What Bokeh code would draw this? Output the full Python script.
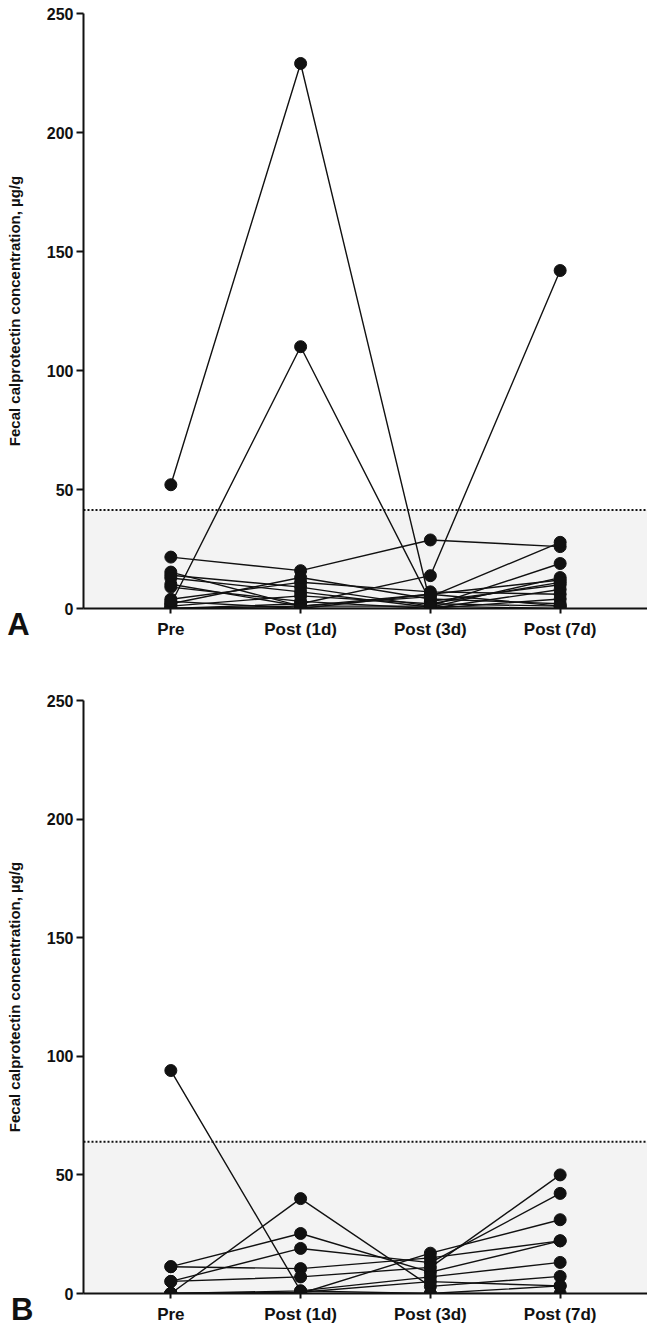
from bokeh.plotting import figure
from bokeh.layouts import column
from bokeh.models import Span, BoxAnnotation, FixedTicker, Range1d
from bokeh.core.properties import value
from bokeh.embed import file_html
from bokeh.resources import INLINE

categories = ["Pre", "Post (1d)", "Post (3d)", "Post (7d)"]
y_ticks = [0, 50, 100, 150, 200, 250]
y_label = "Fecal calprotectin concentration, µg/g"

# Panel A: one list per subject -> values at Pre, Post (1d), Post (3d), Post (7d)
panel_a = [
    [52, 229, 2, 1],
    [1.8, 110, 3, 10],
    [0, 2, 13.8, 142],
    [21.6, 15.9, 28.8, 26],
    [15.3, 1, 5, 27.8],
    [14, 9, 1, 18.9],
    [12.8, 7, 0.5, 13],
    [10.2, 1, 6, 12],
    [9, 3, 0, 8],
    [3.9, 11, 7, 6],
    [2, 13, 4, 2],
    [1, 5.3, 2, 11],
    [0, 0, 0, 4],
    [0, 1, 1, 0],
    [3, 0, 6, 1],
]
ref_limit_a = 41.4

# Panel B
panel_b = [
    [94, 1.1, 0, 3.2],
    [0, 40, 3, 7.2],
    [11.3, 25.3, 9, 22.2],
    [11.3, 10.5, 15, 22.2],
    [5.1, 19, 13, 42.2],
    [5.1, 7, 11, 50],
    [0, 0, 17, 31.1],
    [0, 1.1, 7, 13.1],
    [0, 0, 0, 0],
    [0, 0.5, 5, 3.2],
]
ref_limit_b = 64.0

FONT = "Liberation Sans"
INK = "#111111"


def make_panel(data, limit, letter, frame_h, top_border, bottom_border, letter_xy):
    p = figure(
        frame_width=564, frame_height=frame_h,
        x_range=Range1d(-0.673, 3.673), y_range=Range1d(0, 250),
        output_backend="svg", toolbar_location=None,
        min_border_left=83, min_border_right=0,
        min_border_top=top_border, min_border_bottom=bottom_border,
        outline_line_color=None, background_fill_color="white",
    )
    p.xgrid.visible = False
    p.ygrid.visible = False

    p.add_layout(BoxAnnotation(bottom=0, top=limit, fill_color="#f3f3f3",
                               fill_alpha=1.0, line_color=None, level="underlay"))
    p.add_layout(Span(location=limit, dimension="width", line_color=INK,
                      line_width=2, line_dash="2 2", level="underlay"))

    xs = [list(range(len(categories))) for _ in data]
    p.multi_line(xs, [list(r) for r in data], line_color=INK, line_width=1.4)
    px = [i for r in data for i in range(len(r))]
    py = [v for r in data for v in r]
    p.scatter(px, py, size=12, fill_color=INK, line_color=INK, marker="circle")

    # y axis
    p.yaxis.ticker = FixedTicker(ticks=y_ticks)
    p.yaxis.minor_tick_line_color = None
    p.yaxis.major_tick_in = 0
    p.yaxis.major_tick_out = 7
    p.yaxis.major_tick_line_width = 2
    p.yaxis.axis_line_width = 2
    p.yaxis.axis_line_color = INK
    p.yaxis.major_tick_line_color = INK
    p.yaxis.major_label_text_font = FONT
    p.yaxis.major_label_text_font_style = "bold"
    p.yaxis.major_label_text_font_size = "16px"
    p.yaxis.major_label_text_color = INK
    p.yaxis.major_label_standoff = 3
    p.yaxis.axis_label = y_label
    p.yaxis.axis_label_text_font = FONT
    p.yaxis.axis_label_text_font_style = "bold"
    p.yaxis.axis_label_text_font_size = "15px"
    p.yaxis.axis_label_text_color = INK
    p.yaxis.axis_label_standoff = 21

    # x axis
    p.xaxis.ticker = FixedTicker(ticks=list(range(len(categories))))
    p.xaxis.major_label_overrides = {i: c for i, c in enumerate(categories)}
    p.xaxis.minor_tick_line_color = None
    p.xaxis.major_tick_in = 0
    p.xaxis.major_tick_out = 5
    p.xaxis.major_tick_line_width = 2
    p.xaxis.axis_line_width = 2
    p.xaxis.axis_line_color = INK
    p.xaxis.major_tick_line_color = INK
    p.xaxis.major_label_text_font = FONT
    p.xaxis.major_label_text_font_style = "bold"
    p.xaxis.major_label_text_font_size = "17px"
    p.xaxis.major_label_text_color = INK
    p.xaxis.major_label_standoff = 6

    # panel letter (outside the frame, drawn at overlay level so it is not clipped)
    p.text(x=[letter_xy[0]], y=[letter_xy[1]], text=[letter],
           text_font=value(FONT), text_font_style="bold", text_font_size="31px",
           text_color=INK, text_align="center", text_baseline="middle",
           level="overlay")
    return p


pa = make_panel(panel_a, ref_limit_a, "A", 595, 13, 47, (-1.174, -6.7))
pb = make_panel(panel_b, ref_limit_b, "B", 593, 45, 33, (-1.145, -6.6))

layout = column(pa, pb, spacing=0)
open("out.html", "w").write(file_html(layout, INLINE))
